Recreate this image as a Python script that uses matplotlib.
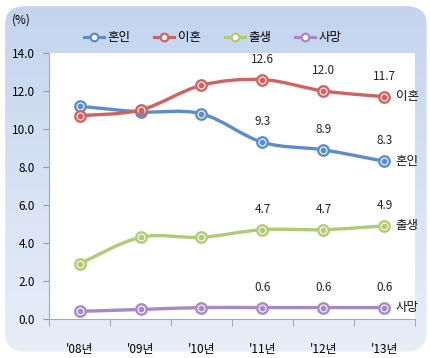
import numpy as np
import matplotlib
matplotlib.use('Agg')
import matplotlib.pyplot as plt
from matplotlib.path import Path
from matplotlib.patches import PathPatch, FancyBboxPatch
from matplotlib.lines import Line2D

plt.rcParams['font.family'] = ['Noto Sans CJK KR', 'DejaVu Sans']

# data
years = ["'08년", "'09년", "'10년", "'11년", "'12년", "'13년"]
marriage = [11.2, 10.9, 10.8, 9.3, 8.9, 8.3]
divorce = [10.7, 11.0, 12.3, 12.6, 12.0, 11.7]
birth = [2.9, 4.3, 4.3, 4.7, 4.7, 4.9]
death = [0.4, 0.5, 0.6, 0.6, 0.6, 0.6]

series = [
    ('혼인', marriage, '#5b8dcb'),
    ('이혼', divorce, '#d2625f'),
    ('출생', birth, '#afcb75'),
    ('사망', death, '#a889c6'),
]


def smooth_path(xs, ys):
    # catmull-rom -> cubic bezier, like excel's smoothed line
    pts = np.column_stack([xs, ys]).astype(float)
    ext = np.vstack([pts[0], pts, pts[-1]])
    verts = [tuple(pts[0])]
    codes = [Path.MOVETO]
    for i in range(len(pts) - 1):
        p0, p1, p2, p3 = ext[i], ext[i + 1], ext[i + 2], ext[i + 3]
        c1 = p1 + (p2 - p0) / 6.0
        c2 = p2 - (p3 - p1) / 6.0
        verts += [tuple(c1), tuple(c2), tuple(p2)]
        codes += [Path.CURVE4] * 3
    return Path(verts, codes)


fig = plt.figure(figsize=(4.3, 3.58), dpi=100)

# rounded gradient background
bg = fig.add_axes([0, 0, 1, 1])
bg.set_xlim(0, 1)
bg.set_ylim(0, 1)
bg.axis('off')
box = FancyBboxPatch((0.012, 0.018), 0.98, 0.965,
                     boxstyle='round,pad=0,rounding_size=0.05',
                     transform=bg.transAxes, facecolor='none', edgecolor='none')
bg.add_patch(box)
grad = np.linspace(0, 1, 256).reshape(-1, 1)
cmap = matplotlib.colors.LinearSegmentedColormap.from_list('bgc', ['#c3d4ef', '#e9eff9'])
im = bg.imshow(grad, cmap=cmap, extent=[0, 1, 0, 1], aspect='auto', origin='upper')
im.set_clip_path(box)

ax = fig.add_axes([0.114, 0.109, 0.851, 0.743])
ax.set_facecolor('white')
x = np.arange(len(years))

for name, vals, col in series:
    patch = PathPatch(smooth_path(x, vals), facecolor='none', edgecolor=col,
                      lw=2.4, zorder=2, capstyle='round')
    ax.add_patch(patch)
    ax.plot(x, vals, ls='none', marker='o', ms=7.5, mfc='white', mec=col, mew=1.7, zorder=3)
    ax.plot(x, vals, ls='none', marker='o', ms=3.2, mfc=col, mec=col, zorder=4)
    for i in range(3, len(vals)):
        ax.annotate(f'{vals[i]:.1f}', (x[i], vals[i]), xytext=(0, 10),
                    textcoords='offset points', ha='center', va='bottom',
                    fontsize=8.5, color='#222222')
    ax.annotate(name, (x[-1], vals[-1]), xytext=(8, 0), textcoords='offset points',
                ha='left', va='center', fontsize=9, color='#111111')

ax.set_xlim(-0.5, 5.5)
ax.set_ylim(0, 14)
ax.set_yticks(np.arange(0, 14.1, 2))
ax.set_yticklabels([f'{v:.1f}' for v in np.arange(0, 14.1, 2)], fontsize=8.5)
ax.set_xticks(x)
ax.set_xticklabels(years, fontsize=8.5)
ax.set_xticks(np.arange(-0.5, 5.6, 1), minor=True)
ax.tick_params(axis='x', which='major', length=0, pad=17)
ax.tick_params(axis='x', which='minor', length=5, color='#999999', direction='out')
ax.tick_params(axis='y', length=4, color='#999999', direction='out', pad=6)
for s in ['top', 'right']:
    ax.spines[s].set_visible(False)
for s in ['left', 'bottom']:
    ax.spines[s].set_color('#aaaaaa')
    ax.spines[s].set_linewidth(0.8)

fig.text(0.028, 0.945, '(%)', fontsize=8.5, ha='left', va='center')

handles = [Line2D([0], [0], color=c, lw=2.2, marker='o', ms=5.5, mfc='white', mec=c, mew=1.6)
           for _, _, c in series]
fig.legend(handles, [n for n, _, _ in series], loc='center', ncol=4,
           bbox_to_anchor=(0.495, 0.895), frameon=False, fontsize=9,
           handlelength=1.6, columnspacing=1.9, handletextpad=0.3)

fig.savefig('out.png', dpi=100)
